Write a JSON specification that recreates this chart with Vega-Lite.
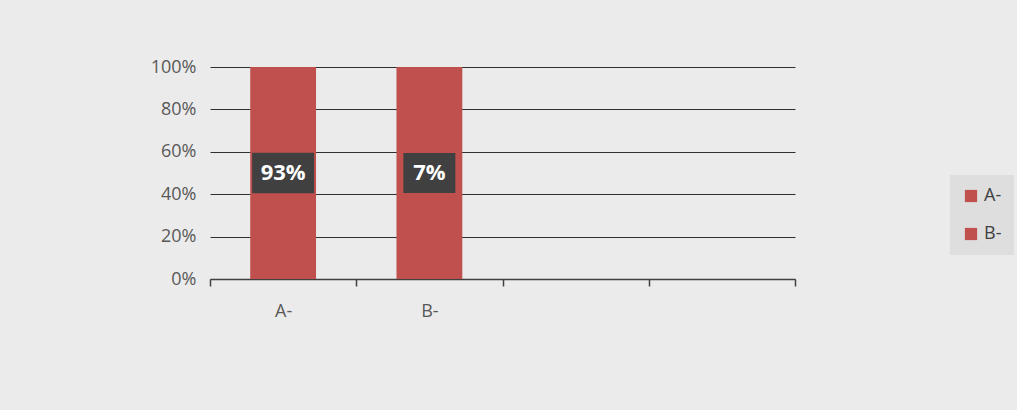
{
  "$schema": "https://vega.github.io/schema/vega-lite/v6.json",
  "width": 585,
  "height": 212,
  "padding": {"left": 150, "top": 58, "right": 10, "bottom": 98},
  "background": "#ebebeb",
  "config": {
    "view": {"stroke": null, "fill": null},
    "font": "Open Sans"
  },
  "data": {
    "values": [
      {"cat": "A-", "value": 1.0, "label": "93%"},
      {"cat": "B-", "value": 1.0, "label": "7%"}
    ]
  },
  "encoding": {
    "x": {
      "field": "cat",
      "type": "nominal",
      "scale": {"domain": ["A-", "B-", "c", "d"], "paddingInner": 0, "paddingOuter": 0},
      "axis": {
        "title": null,
        "labelAngle": 0,
        "labelExpr": "datum.value == 'c' || datum.value == 'd' ? '' : datum.value",
        "labelFont": "Open Sans",
        "labelFontSize": 18,
        "labelColor": "#595959",
        "domainColor": "#404040",
        "domainWidth": 1.5,
        "tickColor": "#404040",
        "tickWidth": 1.5,
        "tickBand": "extent",
        "tickSize": 7,
        "labelPadding": 16
      }
    }
  },
  "layer": [
    {
      "mark": {"type": "bar", "color": "#c0504d", "width": {"band": 0.45}},
      "encoding": {
        "y": {
          "field": "value",
          "type": "quantitative",
          "scale": {"domain": [0, 1]},
          "axis": {
            "title": null,
            "format": ".0%",
            "values": [0, 0.2, 0.4, 0.6, 0.8, 1.0],
            "labelOverlap": false,
            "labelFont": "Open Sans",
            "labelFontSize": 18,
            "labelColor": "#595959",
            "grid": true,
            "gridColor": "#303030",
            "gridWidth": 1,
            "domain": false,
            "ticks": false,
            "labelPadding": 14
          }
        },
        "color": {
          "field": "cat",
          "type": "nominal",
          "scale": {"domain": ["A-", "B-"], "range": ["#c0504d", "#c0504d"]},
          "legend": {
            "title": null,
            "orient": "none",
            "legendX": 740,
            "legendY": 108,
            "symbolType": "square",
            "symbolSize": 150,
            "symbolStrokeWidth": 0,
            "labelFontSize": 18,
            "labelColor": "#404040",
            "labelFont": "Open Sans",
            "rowPadding": 20,
            "fillColor": "#dedede",
            "padding": 12
          }
        }
      }
    },
    {
      "mark": {"type": "point", "filled": true, "color": "#404040", "opacity": 1},
      "encoding": {
        "y": {"datum": 0.5, "type": "quantitative"},
        "shape": {"condition": {"test": "datum.cat == 'A-'", "value": "M-1,-0.65H1V0.65H-1Z"}, "value": "M-1,-0.77H1V0.77H-1Z"},
        "size": {"condition": {"test": "datum.cat == 'A-'", "value": 3844}, "value": 2704}
      }
    },
    {
      "mark": {"type": "text", "color": "white", "fontSize": 22, "fontWeight": "bold", "font": "Open Sans"},
      "encoding": {
        "y": {"datum": 0.5, "type": "quantitative"},
        "text": {"field": "label"}
      }
    }
  ]
}
